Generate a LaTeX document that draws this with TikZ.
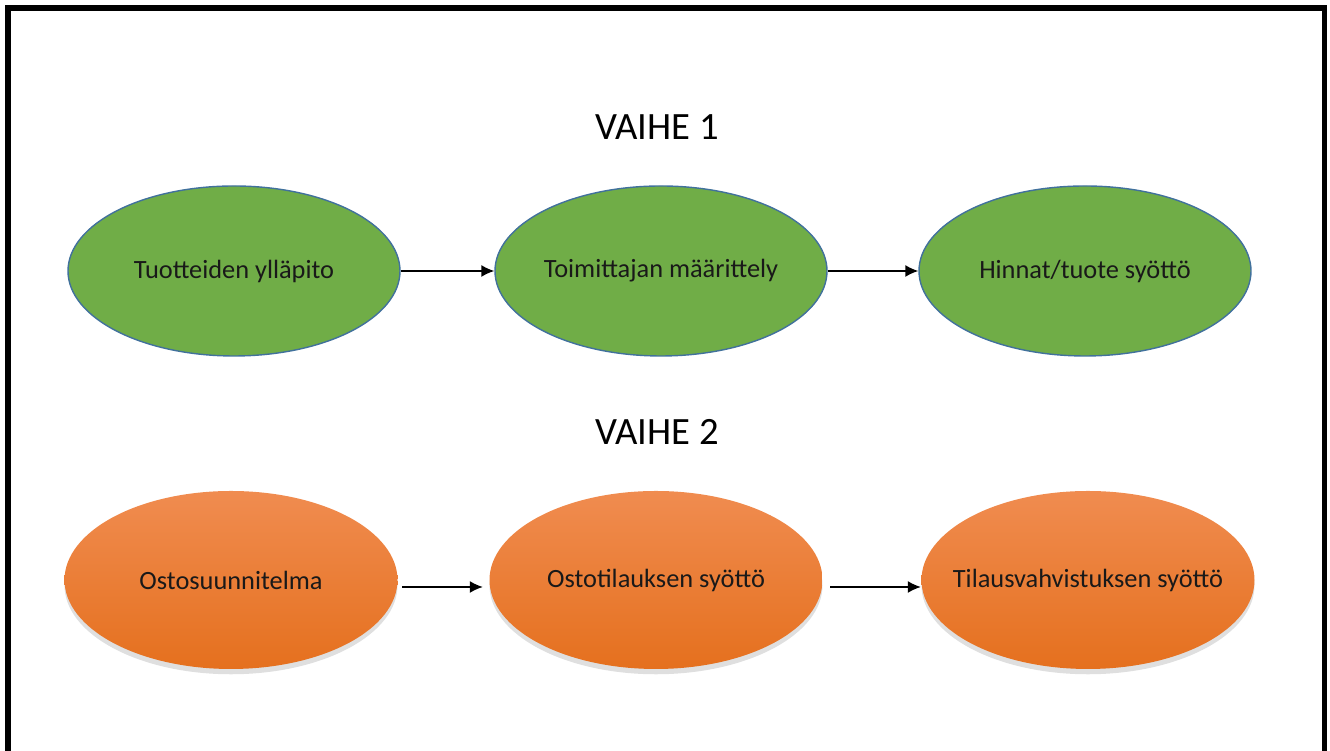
\documentclass[tikz,border=0pt]{standalone}
\usepackage{fontspec}
\setmainfont{Carlito}
\usetikzlibrary{shapes.geometric,arrows.meta,shadows}
\tikzset{>={Latex[length=2.6mm,width=2.4mm]}}
\definecolor{vihr}{HTML}{70AD47}
\definecolor{reuna}{HTML}{41719C}
\definecolor{oryla}{HTML}{F08C50}
\definecolor{orala}{HTML}{E5701E}
\tikzset{
  otsikko/.style={font=\fontsize{22}{26}\selectfont},
  vaiheA/.style={ellipse, draw=reuna, line width=.8pt, fill=vihr,
    minimum width=6.64cm, minimum height=3.4cm, inner ysep=0pt, inner xsep=-.8cm,
    font=\fontsize{15}{18}\selectfont, text=black!90},
  vaiheB/.style={ellipse, top color=oryla, bottom color=orala,
    minimum width=6.66cm, minimum height=3.56cm, inner ysep=0pt, inner xsep=-.8cm,
    drop shadow={opacity=.25, shadow xshift=0pt, shadow yshift=-3pt},
    font=\fontsize{15}{18}\selectfont, text=black!90}
}

\begin{document}
\begin{tikzpicture}[thick]
    \useasboundingbox (0, 0) rectangle (26.6, 15.02);
    % kehys
    \draw[line width=3.4pt] (0.16, 0) -- (0.16, 14.86) -- (26.49, 14.86) -- (26.49, 0);
    % vaihe 1
    \node[otsikko] (otsikko1) at (13.14, 12.48) {VAIHE 1};
    \node[vaiheA] (tuote) at (4.68, 9.6) {Tuotteiden ylläpito};
    \node[vaiheA] (toimittaja) at (13.22, 9.6) {Toimittajan määrittely};
    \node[vaiheA] (hinnat) at (21.7, 9.6) {Hinnat/tuote syöttö};
    \draw[->] (tuote) -- (toimittaja);
    \draw[->] (toimittaja) -- (hinnat);
    % vaihe 2
    \node[otsikko] (otsikko2) at (13.14, 6.38) {VAIHE 2};
    \node[vaiheB] (suunnitelma) at (4.62, 3.42) {Ostosuunnitelma};
    \node[vaiheB] (tilaus) at (13.12, 3.42) {Ostotilauksen syöttö};
    \node[vaiheB] (vahvistus) at (21.76, 3.42) {Tilausvahvistuksen syöttö};
    \draw[->, shorten <=.08cm, shorten >=.12cm] ([yshift=-.14cm]suunnitelma.east) -- ([yshift=-.14cm]tilaus.west);
    \draw[->, shorten <=.14cm] ([yshift=-.14cm]tilaus.east) -- ([yshift=-.14cm]vahvistus.west);
\end{tikzpicture}
\end{document}
